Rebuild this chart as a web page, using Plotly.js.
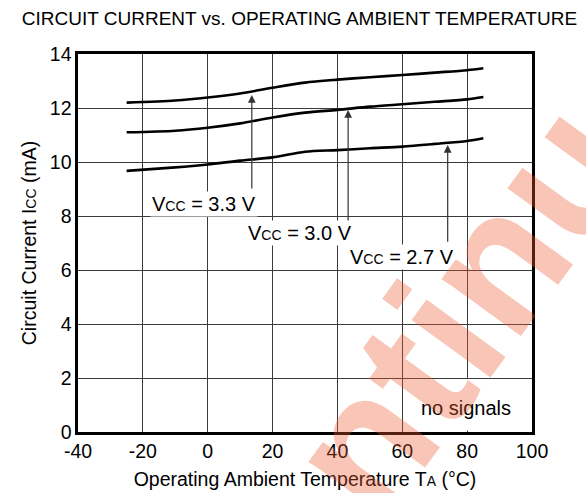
<!DOCTYPE html>
<html>
<head>
<meta charset="utf-8">
<script src="https://cdn.plot.ly/plotly-3.0.1.min.js"></script>
<style>html,body{margin:0;padding:0;background:#fff;}#chart{width:586px;height:493px;}</style>
</head>
<body>
<div id="chart"></div>
<script>
// Temperature (°C)
const temps = [-25, -10, 0, 10, 20, 30, 40, 50, 60, 70, 80, 85];
// Circuit current (mA)
const icc33 = [12.20, 12.28, 12.39, 12.54, 12.75, 12.94, 13.05, 13.14, 13.22, 13.31, 13.40, 13.47];
const icc30 = [11.10, 11.16, 11.27, 11.43, 11.65, 11.83, 11.93, 12.05, 12.14, 12.23, 12.32, 12.41];
const icc27 = [9.67, 9.80, 9.91, 10.05, 10.17, 10.38, 10.44, 10.51, 10.57, 10.67, 10.78, 10.88];

// Labels and arrows
const seriesLabels = ["3.3 V", "3.0 V", "2.7 V"];
const labelX = [-1.0, 28.6, 59.9];
const labelY = [8.45, 7.36, 6.49];
const arrowX = [13.6, 43.3, 74.0];
const arrowHeadY = [12.48, 11.93, 10.63];
const arrowTailY = [8.96, 7.67, 6.99];

const xTicks = [-40, -20, 0, 20, 40, 60, 80, 100];
const yTicks = [0, 2, 4, 6, 8, 10, 12, 14];

const FONT = "Liberation Sans, Arial, sans-serif";
const lineStyle = {color: "#000", width: 2.6, shape: "spline", smoothing: 0.8};

const traces = [icc33, icc30, icc27].map(v => ({
  x: temps, y: v, type: "scatter", mode: "lines", line: lineStyle, hoverinfo: "skip", showlegend: false
}));

const annotations = [];
for (let i = 0; i < seriesLabels.length; i++) {
  annotations.push({
    x: arrowX[i], y: arrowHeadY[i], ax: arrowX[i], ay: arrowTailY[i],
    xref: "x", yref: "y", axref: "x", ayref: "y",
    text: "", showarrow: true, arrowhead: 2, arrowsize: 1.3, arrowwidth: 1.2,
    arrowcolor: "#333", standoff: 0, startstandoff: 0
  });
  annotations.push({
    x: labelX[i], y: labelY[i], xref: "x", yref: "y", showarrow: false,
    text: "V<span style=\"font-size:14px\">CC</span> = " + seriesLabels[i],
    font: {family: FONT, size: 20, color: "#000"}, bgcolor: "#fff", borderpad: 1
  });
}
annotations.push({
  x: 79.6, y: 0.88, xref: "x", yref: "y", showarrow: false, text: "no signals",
  font: {family: FONT, size: 20, color: "#000"}
});
// watermark
annotations.push({
  x: 0.659, y: 0.018, xref: "paper", yref: "paper", xanchor: "center", yanchor: "middle",
  showarrow: false, text: "Discontinued", textangle: -54,
  font: {family: FONT, size: 185, color: "rgba(235,90,50,0.35)", weight: "bold"}
});

const layout = {
  width: 586, height: 493,
  margin: {l: 78, r: 54, t: 54, b: 61},
  paper_bgcolor: "#fff", plot_bgcolor: "#fff",
  title: {text: "CIRCUIT CURRENT vs. OPERATING AMBIENT TEMPERATURE",
    font: {family: FONT, size: 19, color: "#000"}, x: 0.511, xanchor: "center", y: 0.963, yanchor: "middle"},
  xaxis: {
    range: [-40, 100], tickvals: xTicks, ticktext: xTicks.map(String),
    showgrid: true, gridcolor: "#3a3a3a", gridwidth: 1, zeroline: false,
    showline: true, mirror: true, linecolor: "#000", linewidth: 2.6, ticks: "",
    tickfont: {family: FONT, size: 19.5, color: "#000"},
    title: {text: "Operating Ambient Temperature T<span style=\"font-size:14px\">A</span> (°C)",
      font: {family: FONT, size: 19.5, color: "#000"}, standoff: 12}
  },
  yaxis: {
    range: [0, 14], tickvals: yTicks, ticktext: yTicks.map(String),
    showgrid: true, gridcolor: "#3a3a3a", gridwidth: 1, zeroline: false,
    showline: true, mirror: true, linecolor: "#000", linewidth: 2.6, ticks: "",
    tickfont: {family: FONT, size: 19.5, color: "#000"},
    title: {text: "Circuit Current I<span style=\"font-size:14px\">CC</span> (mA)",
      font: {family: FONT, size: 19.5, color: "#000"}, standoff: 8}
  },
  shapes: [{
    type: "rect", xref: "x", yref: "y", x0: 60.6, x1: 99.6, y0: 0.06, y1: 1.96,
    fillcolor: "#fff", line: {width: 0}, layer: "between"
  }],
  annotations: annotations
};

Plotly.newPlot("chart", traces, layout, {staticPlot: true, displayModeBar: false});
</script>
</body>
</html>
